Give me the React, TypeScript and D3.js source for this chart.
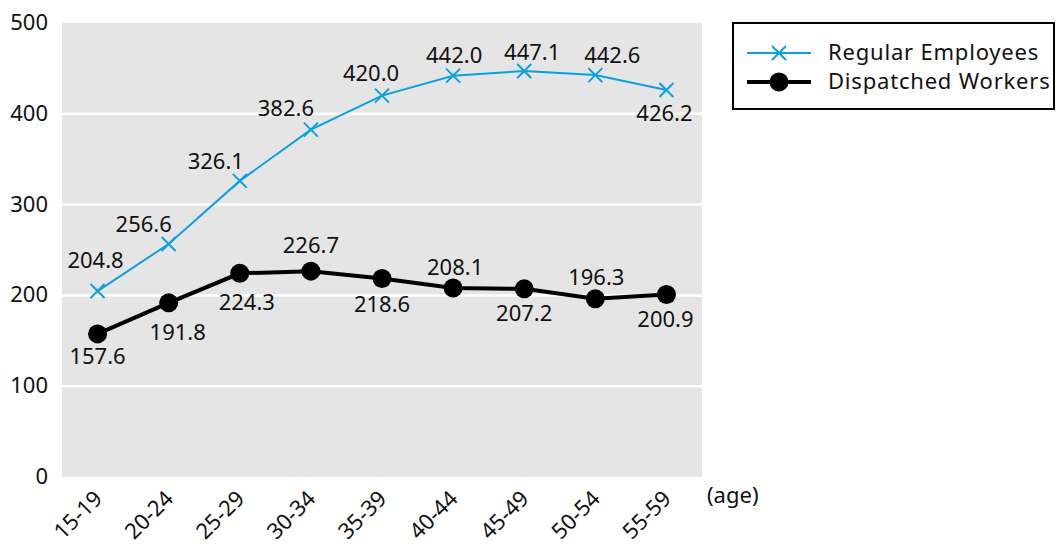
import React from "react";
import * as d3 from "d3";

const ageGroups = ["15-19", "20-24", "25-29", "30-34", "35-39", "40-44", "45-49", "50-54", "55-59"];
const regularEmployees = [204.8, 256.6, 326.1, 382.6, 420.0, 442.0, 447.1, 442.6, 426.2];
const dispatchedWorkers = [157.6, 191.8, 224.3, 226.7, 218.6, 208.1, 207.2, 196.3, 200.9];
const yTicks = [0, 100, 200, 300, 400, 500];

// label offsets relative to each marker [dx, baseline dy]
const regularLabelOffsets: [number, number][] = [
  [-2, -23], [-25, -12], [-24, -12], [-25, -14], [-11, -15], [1, -13], [8, -11], [17, -12], [-2, 31],
];
const dispatchedLabelOffsets: [number, number][] = [
  [0, 30], [9, 37], [7, 37], [0, -18], [0, 33], [2, -13], [0, 32], [1, -14], [-1, 32],
];

const W = 1057;
const H = 544;
const left = 62;
const right = 702;
const top = 23;
const bottom = 477;
const FONT = "'Noto Sans', 'Open Sans', sans-serif";
const FS = 22;
const BLUE = "#0aa0e2";

export default function App() {
  const x = d3.scaleBand<string>().domain(ageGroups).range([left, right]);
  const y = d3.scaleLinear().domain([0, 500]).range([bottom, top]);
  const cx = (i: number) => (x(ageGroups[i]) as number) + x.bandwidth() / 2;

  const line = d3
    .line<number>()
    .x((_, i) => cx(i))
    .y((d) => y(d));

  const cross = (px: number, py: number, s: number, key?: string | number) => (
    <path
      key={key}
      d={`M${px - s},${py - s}L${px + s},${py + s}M${px - s},${py + s}L${px + s},${py - s}`}
      stroke={BLUE}
      strokeWidth={2}
      fill="none"
    />
  );

  return (
    <svg width={W} height={H} style={{ position: "absolute", left: 0, top: 0 }} fontFamily={FONT}>
      <rect x={left} y={top} width={right - left} height={bottom - top} fill="#e5e5e5" />
      {yTicks.filter((t) => t > 0 && t < 500).map((t) => (
        <line key={t} x1={left} x2={right} y1={y(t)} y2={y(t)} stroke="#fff" strokeWidth={2.5} />
      ))}
      {yTicks.map((t) => (
        <text key={t} x={48} y={y(t) + 7} textAnchor="end" fontSize={FS} fill="#111">
          {t}
        </text>
      ))}
      {ageGroups.map((g, i) => (
        <text
          key={g}
          transform={`translate(${cx(i) + 6},${500}) rotate(-45)`}
          textAnchor="end"
          fontSize={FS}
          fill="#111"
        >
          {g}
        </text>
      ))}
      <text x={707} y={503} fontSize={FS} fill="#111">(age)</text>

      {/* Regular employees */}
      <path d={line(regularEmployees) || ""} fill="none" stroke={BLUE} strokeWidth={2} />
      {regularEmployees.map((v, i) => cross(cx(i), y(v), 7, "c" + i))}
      {regularEmployees.map((v, i) => (
        <text
          key={"rl" + i}
          x={cx(i) + regularLabelOffsets[i][0]}
          y={y(v) + regularLabelOffsets[i][1]}
          textAnchor="middle"
          fontSize={FS}
          fill="#111"
        >
          {v.toFixed(1)}
        </text>
      ))}

      {/* Dispatched workers */}
      <path d={line(dispatchedWorkers) || ""} fill="none" stroke="#000" strokeWidth={4} />
      {dispatchedWorkers.map((v, i) => (
        <circle key={"d" + i} cx={cx(i)} cy={y(v)} r={9.5} fill="#000" />
      ))}
      {dispatchedWorkers.map((v, i) => (
        <text
          key={"dl" + i}
          x={cx(i) + dispatchedLabelOffsets[i][0]}
          y={y(v) + dispatchedLabelOffsets[i][1]}
          textAnchor="middle"
          fontSize={FS}
          fill="#111"
        >
          {v.toFixed(1)}
        </text>
      ))}

      {/* Legend */}
      <rect x={733} y={23} width={321} height={86} fill="#fff" stroke="#000" strokeWidth={2} />
      <line x1={747} x2={811} y1={53} y2={53} stroke={BLUE} strokeWidth={2} />
      {cross(779, 53, 7)}
      <text x={828} y={60} fontSize={FS} letterSpacing={0.8} fill="#111">Regular Employees</text>
      <line x1={747} x2={811} y1={82} y2={82} stroke="#000" strokeWidth={4} />
      <circle cx={779} cy={82} r={9.5} fill="#000" />
      <text x={828} y={89} fontSize={FS} letterSpacing={0.8} fill="#111">Dispatched Workers</text>
    </svg>
  );
}
